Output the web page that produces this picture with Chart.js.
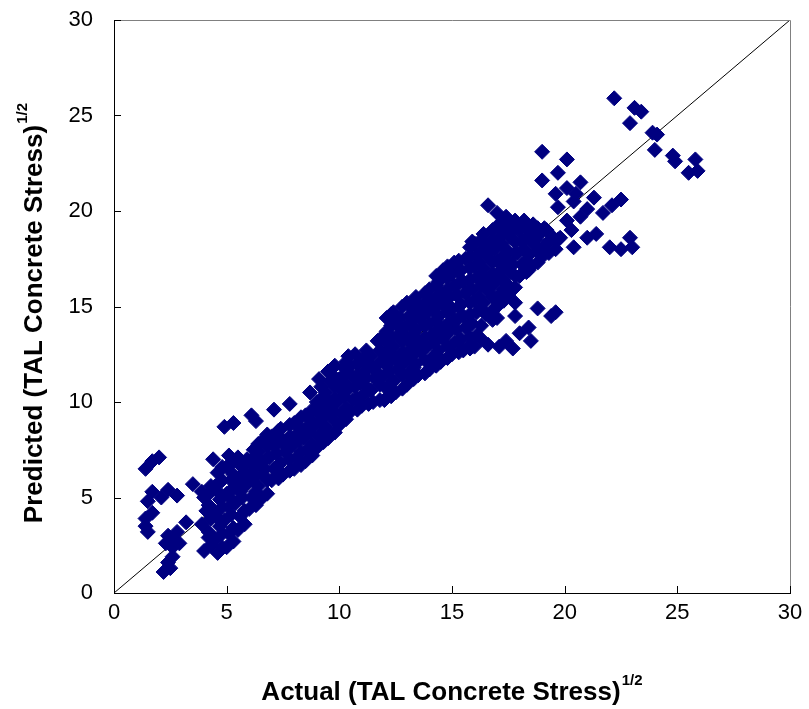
<!DOCTYPE html>
<html>
<head>
<meta charset="utf-8">
<script src="https://cdn.jsdelivr.net/npm/chart.js@4.4.1/dist/chart.umd.min.js"></script>
<style>
  body { margin: 0; background: #fff; }
  #wrap { width: 809px; height: 709px; position: relative; }
</style>
</head>
<body>
<div id="wrap"><canvas id="chart"></canvas></div>
<script>
// axis ticks
const tickValues = [0, 5, 10, 15, 20, 25, 30]
const diagonal = [[0, 0], [30, 30]]

// actual vs predicted, grouped by region
const lowTail = [
  [1.4,6.5],[1.7,6.9],[2.0,7.1],[1.7,5.3],[2.4,5.4],[2.8,5.1],[1.5,4.8],[2.1,5.0],
  [1.4,3.9],[1.5,3.2],[1.7,4.2],[1.4,3.5],[2.4,3.0],[2.8,3.2],[3.2,3.7],[2.7,2.7],
  [2.3,2.6],[2.4,1.6],[2.2,1.1],[2.6,1.9],[2.6,2.4],[2.9,2.6],[2.5,1.3],[3.5,5.7],[3.9,5.3]
]
const lowerBand = [
  [4.0,2.2],[4.2,2.9],[3.9,3.6],[4.1,4.3],[4.0,5.0],[4.3,5.6],
  [4.6,2.1],[4.5,2.8],[4.7,3.5],[4.5,4.2],[4.7,4.9],[4.5,5.6],[4.6,6.3],[4.4,7.0],
  [5.0,2.4],[5.1,3.1],[4.9,3.8],[5.1,4.5],[5.0,5.2],[5.2,5.9],[5.0,6.6],[5.1,7.2],
  [5.5,3.3],[5.6,4.0],[5.4,4.7],[5.6,5.3],[5.5,6.0],[5.7,6.6],[5.5,7.1],
  [6.0,4.4],[6.1,5.0],[5.9,5.7],[6.1,6.3],[6.0,6.9],[6.2,7.5],
  [6.5,4.9],[6.4,5.6],[6.6,6.2],[6.5,6.8],[6.4,7.4],[6.6,8.0],
  [7.0,5.9],[7.1,6.5],[6.9,7.1],[7.1,7.7],[7.0,8.2],
  [7.5,6.2],[7.4,6.8],[7.6,7.4],[7.5,8.0],[7.4,8.6],
  [8.0,6.5],[8.1,7.1],[7.9,7.7],[8.1,8.3],[8.0,8.9],
  [8.5,6.9],[8.6,7.5],[8.4,8.1],[8.6,8.7],[8.5,9.3],
  [4.9,8.7],[5.3,8.9],[6.1,9.3],[6.3,9.0],[7.1,9.6],[7.8,9.9],[8.7,10.5],[9.1,11.2]
]
const lowerBandFill = [
  [4.3,2.5],[4.2,3.2],[4.3,3.9],[4.2,4.6],[4.3,5.3],
  [4.8,2.4],[4.8,3.1],[4.7,3.8],[4.8,4.5],[4.7,5.2],[4.8,5.9],[4.8,6.6],
  [5.3,2.7],[5.3,3.4],[5.2,4.1],[5.3,4.8],[5.3,5.5],[5.3,6.2],[5.3,6.9],
  [5.8,3.6],[5.8,4.3],[5.7,5.0],[5.8,5.7],[5.8,6.3],[5.9,7.0],
  [6.3,4.6],[6.3,5.3],[6.2,6.0],[6.3,6.6],[6.3,7.2],[6.4,7.8],
  [6.8,5.2],[6.8,5.9],[6.7,6.5],[6.8,7.1],[6.8,7.7],[6.8,8.3],
  [7.3,6.0],[7.3,6.7],[7.2,7.3],[7.3,7.9],[7.3,8.5],
  [7.8,6.4],[7.8,7.0],[7.7,7.6],[7.8,8.2],[7.8,8.8],
  [8.3,6.7],[8.3,7.4],[8.2,8.0],[8.3,8.6],[8.3,9.2],
  [8.8,7.2],[8.8,7.8],[8.7,8.4],[8.8,9.0],[8.8,9.6]
]
const midBand = [
  [9.0,7.6],[9.1,8.2],[8.9,8.8],[9.1,9.4],[9.0,10.0],
  [9.5,8.1],[9.4,8.7],[9.6,9.3],[9.5,9.9],[9.4,10.5],[9.6,11.1],[9.5,11.6],
  [10.0,8.8],[10.1,9.4],[9.9,10.0],[10.1,10.6],[10.0,11.2],[10.2,11.8],
  [10.5,9.5],[10.6,10.1],[10.4,10.7],[10.6,11.3],[10.5,11.9],[10.4,12.4],
  [11.0,9.8],[11.1,10.4],[10.9,11.0],[11.1,11.6],[11.0,12.2],[11.2,12.7],
  [11.5,10.0],[11.4,10.6],[11.6,11.2],[11.5,11.8],[11.4,12.4],[11.7,13.2],
  [12.0,10.1],[12.1,10.7],[11.9,11.3],[12.1,11.9],[12.0,12.5],[12.1,13.1],[12.1,13.7],[12.1,14.4],
  [12.5,10.5],[12.4,11.1],[12.6,11.7],[12.5,12.3],[12.4,12.9],[12.6,13.5],[12.5,14.1],[12.4,14.7],
  [13.0,10.9],[13.1,11.5],[12.9,12.1],[13.1,12.7],[13.0,13.3],[12.9,13.9],[13.1,14.5],[13.0,15.2],
  [13.5,11.4],[13.4,12.0],[13.6,12.6],[13.5,13.2],[13.4,13.8],[13.6,14.4],[13.5,15.0],[13.4,15.5],
  [14.0,11.7],[14.1,12.3],[13.9,12.9],[14.1,13.5],[14.0,14.1],[13.9,14.7],[14.1,15.3],[14.0,15.9]
]
const midBandFill = [
  [9.3,7.9],[9.3,8.5],[9.2,9.1],[9.3,9.7],[9.3,10.3],[9.2,10.8],
  [9.8,8.4],[9.8,9.0],[9.7,9.6],[9.8,10.2],[9.8,10.8],[9.7,11.4],[9.8,11.9],
  [10.3,9.1],[10.3,9.7],[10.2,10.3],[10.3,10.9],[10.3,11.5],[10.3,12.1],
  [10.8,9.6],[10.8,10.2],[10.7,10.8],[10.8,11.4],[10.8,12.0],[10.7,12.5],
  [11.3,9.9],[11.3,10.7],[11.2,11.3],[11.3,11.9],[11.3,12.5],
  [11.8,10.1],[11.8,10.9],[11.7,11.5],[11.8,12.1],[11.8,12.7],[11.9,13.4],
  [12.3,10.3],[12.3,11.0],[12.2,11.6],[12.3,12.2],[12.3,12.8],[12.3,13.4],[12.3,14.0],[12.3,14.6],
  [12.8,10.7],[12.8,11.4],[12.7,12.0],[12.8,12.6],[12.8,13.2],[12.8,13.8],[12.7,14.4],[12.8,15.0],
  [13.3,11.2],[13.3,11.8],[13.2,12.4],[13.3,13.0],[13.3,13.6],[13.2,14.2],[13.3,14.8],[13.3,15.3],
  [13.8,11.5],[13.8,12.2],[13.7,12.8],[13.8,13.4],[13.8,14.0],[13.7,14.6],[13.8,15.2],[13.8,15.7],
  [14.3,11.9],[14.3,12.5],[14.2,13.1],[14.3,13.7],[14.3,14.3],[14.2,14.9],[14.3,15.5],[14.3,16.1],[14.3,16.6]
]
const upperBand = [
  [14.5,12.1],[14.4,12.7],[14.6,13.3],[14.5,13.9],[14.4,14.5],[14.6,15.1],[14.5,15.7],[14.4,16.3],[14.6,16.9],
  [15.0,12.5],[15.1,13.1],[14.9,13.7],[15.1,14.3],[15.0,14.9],[14.9,15.5],[15.1,16.1],[15.0,16.7],[15.1,17.3],
  [15.5,12.7],[15.4,13.3],[15.6,13.9],[15.5,14.5],[15.4,15.1],[15.6,15.7],[15.5,16.3],[15.4,16.9],[15.6,17.5],
  [16.0,12.9],[16.1,13.5],[15.9,14.1],[16.1,14.7],[16.0,15.3],[15.9,15.9],[16.1,16.5],[16.0,17.1],[16.1,17.7],[16.0,18.3],
  [16.5,14.6],[16.4,15.2],[16.6,15.8],[16.5,16.4],[16.4,17.0],[16.6,17.6],[16.5,18.2],[16.4,18.8],
  [17.0,15.0],[17.1,15.6],[16.9,16.2],[17.1,16.8],[17.0,17.4],[16.9,18.0],[17.1,18.6],[17.0,19.2],
  [17.5,15.6],[17.4,16.2],[17.6,16.8],[17.5,17.4],[17.4,18.0],[17.6,18.6],[17.5,19.2],[17.4,19.7],
  [18.0,16.6],[18.1,17.2],[17.9,17.8],[18.1,18.4],[18.0,19.0],[18.2,19.5],
  [18.5,17.1],[18.4,17.7],[18.6,18.3],[18.5,18.9],[18.6,19.3],
  [19.0,17.6],[19.1,18.2],[18.9,18.8],[19.1,19.1],
  [19.6,18.0],[19.5,18.6],[19.8,18.6]
]
const upperBandFill = [
  [14.8,12.3],[14.8,12.9],[14.7,13.5],[14.8,14.1],[14.8,14.7],[14.7,15.3],[14.8,15.9],[14.8,16.5],[14.8,17.1],
  [15.3,12.6],[15.3,13.2],[15.2,13.8],[15.3,14.4],[15.3,15.0],[15.2,15.6],[15.3,16.2],[15.3,16.8],[15.3,17.4],
  [15.8,12.8],[15.8,13.4],[15.7,14.0],[15.8,14.6],[15.8,15.2],[15.7,15.8],[15.8,16.4],[15.8,17.0],[15.8,17.6],[15.8,18.1],
  [16.3,14.0],[16.3,14.9],[16.2,15.5],[16.3,16.1],[16.3,16.7],[16.2,17.3],[16.3,17.9],[16.3,18.5],
  [16.8,14.8],[16.8,15.5],[16.7,16.1],[16.8,16.7],[16.8,17.3],[16.7,17.9],[16.8,18.5],[16.8,19.0],
  [17.3,15.3],[17.3,15.9],[17.2,16.5],[17.3,17.1],[17.3,17.7],[17.2,18.3],[17.3,18.9],[17.3,19.5],
  [17.8,16.0],[17.8,16.6],[17.7,17.2],[17.8,17.8],[17.8,18.4],[17.7,19.0],[17.8,19.5],
  [18.3,16.8],[18.3,17.4],[18.2,18.0],[18.3,18.6],[18.3,19.2],
  [18.8,17.3],[18.8,17.9],[18.7,18.5],[18.8,19.1],
  [19.3,17.8],[19.3,18.4],[19.2,19.0]
]
const underPredicted = [
  [17.8,15.2],[18.8,14.9],[19.4,14.5],[19.6,14.7],[17.8,14.5],[18.4,13.9],[17.0,14.4],[18.0,13.6],
  [18.5,13.2],[17.4,13.2],[17.1,12.9],[17.7,12.8],[16.8,14.3],[16.3,13.3],[16.6,13.0],[15.8,13.0]
]
const upperRight = [
  [19.0,23.1],[20.1,22.7],[19.7,22.0],[19.0,21.6],[19.6,20.9],[20.1,21.2],[20.7,21.5],[20.5,20.9],
  [19.7,20.2],[20.4,20.5],[21.3,20.7],[21.0,20.1],[22.1,20.3],[22.5,20.6],[21.7,19.9],[20.1,19.5],
  [20.7,19.7],[20.3,19.0],[21.0,18.6],[21.4,18.8],[20.4,18.1],[22.0,18.1],[22.5,18.0],[22.9,18.6],
  [23.0,18.1],[18.4,16.9],[19.7,18.5],[16.6,20.3],[17.0,19.9],[15.9,18.4],[18.3,16.9]
]
const highTail = [
  [22.2,25.9],[23.1,25.4],[23.4,25.2],[22.9,24.6],[23.9,24.1],[24.1,24.0],
  [24.0,23.2],[24.8,22.9],[24.9,22.6],[25.8,22.7],[25.5,22.0],[25.9,22.1]
]

const points = [
  ...lowTail, ...lowerBand, ...lowerBandFill, ...midBand, ...midBandFill,
  ...upperBand, ...upperBandFill, ...underPredicted, ...upperRight, ...highTail
].map(p => ({x: p[0], y: p[1]}))

const tickFont = {family: '"Liberation Sans", Arial, sans-serif', size: 22}
const titleFont = 'bold 26px "Liberation Sans", Arial, sans-serif'
const supFont = 'bold 15px "Liberation Sans", Arial, sans-serif'

// frame, inward tick marks and the axis titles with their 1/2 superscript
const decorations = {
  id: 'decorations',
  afterDraw(chart) {
    const ctx = chart.ctx
    const a = chart.chartArea
    const xs = chart.scales.x, ys = chart.scales.y
    ctx.save()
    ctx.strokeStyle = '#808080'
    ctx.lineWidth = 1
    ctx.beginPath()
    ctx.moveTo(a.left, a.top + 0.5); ctx.lineTo(a.right + 0.5, a.top + 0.5)
    ctx.lineTo(a.right + 0.5, a.bottom)
    ctx.stroke()
    ctx.strokeStyle = '#000'
    ctx.beginPath()
    tickValues.forEach(v => {
      const px = Math.round(xs.getPixelForValue(v)) + 0.5
      ctx.moveTo(px, a.bottom); ctx.lineTo(px, a.bottom - 7)
      const py = Math.round(ys.getPixelForValue(v)) + 0.5
      ctx.moveTo(a.left, py); ctx.lineTo(a.left + 7, py)
    })
    ctx.stroke()

    ctx.fillStyle = '#000'
    ctx.textBaseline = 'alphabetic'
    // x title
    const xt = 'Actual (TAL Concrete Stress)'
    ctx.font = titleFont
    const xw = ctx.measureText(xt).width
    const xl = 441 - xw / 2
    ctx.fillText(xt, xl, 700)
    ctx.font = supFont
    ctx.fillText('1/2', xl + xw + 1, 685)
    // y title
    const yt = 'Predicted (TAL Concrete Stress)'
    ctx.translate(42, 324)
    ctx.rotate(-Math.PI / 2)
    ctx.font = titleFont
    const yw = ctx.measureText(yt).width
    ctx.fillText(yt, -yw / 2, 0)
    ctx.font = supFont
    ctx.fillText('1/2', yw / 2 + 1, -15)
    ctx.restore()
  }
}

new Chart(document.getElementById('chart'), {
  type: 'scatter',
  data: {
    datasets: [
      {
        data: points,
        pointStyle: 'rectRot',
        pointRadius: 7.5,
        pointHoverRadius: 7.5,
        backgroundColor: '#000080',
        borderColor: '#000080',
        borderWidth: 1,
        order: 1
      },
      {
        type: 'line',
        data: diagonal.map(p => ({x: p[0], y: p[1]})),
        borderColor: '#000',
        borderWidth: 1,
        pointRadius: 0,
        order: 2
      }
    ]
  },
  options: {
    responsive: true,
    maintainAspectRatio: false,
    animation: false,
    layout: {padding: {top: 20, right: 19, left: 0, bottom: 0}},
    plugins: {legend: {display: false}, tooltip: {enabled: false}},
    scales: {
      x: {
        type: 'linear', min: 0, max: 30,
        afterFit: s => { s.height = 116; s.paddingLeft = 0; s.paddingRight = 0 },
        afterBuildTicks: s => { s.ticks = tickValues.map(v => ({value: v})) },
        grid: {display: false, drawTicks: false},
        border: {display: true, color: '#000', width: 1},
        ticks: {color: '#000', font: tickFont, padding: 7, maxRotation: 0}
      },
      y: {
        type: 'linear', min: 0, max: 30,
        afterFit: s => { s.width = 114; s.paddingTop = 0; s.paddingBottom = 0 },
        afterBuildTicks: s => { s.ticks = tickValues.map(v => ({value: v})) },
        grid: {display: false, drawTicks: false},
        border: {display: true, color: '#000', width: 1},
        ticks: {color: '#000', font: tickFont, padding: 21}
      }
    }
  },
  plugins: [decorations]
})
</script>
</body>
</html>
